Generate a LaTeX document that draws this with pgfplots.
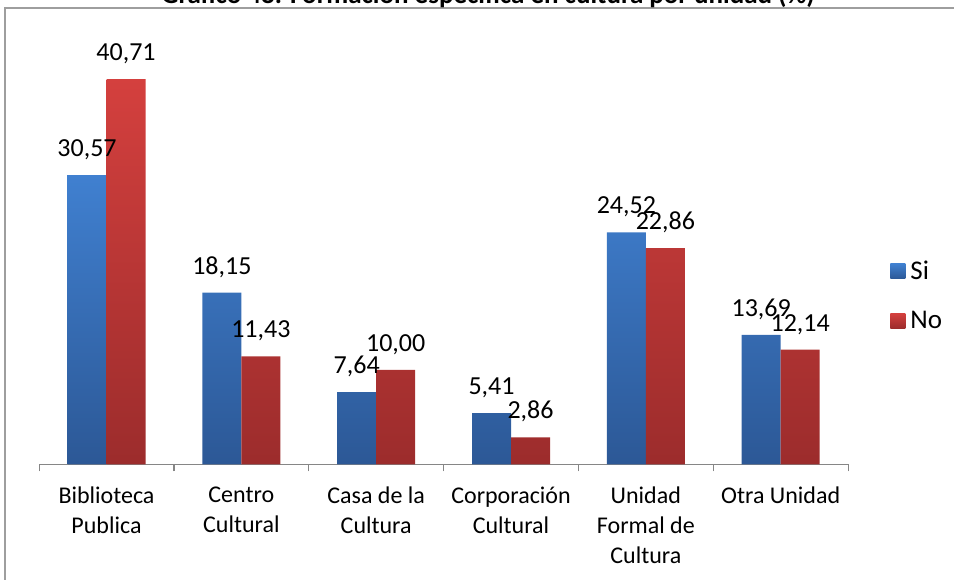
\documentclass[border=0pt]{standalone}
\usepackage{pgfplots}
\pgfplotsset{compat=1.18}
\usepackage{fontspec}
\setmainfont{Carlito}
\definecolor{bluetop}{RGB}{64,128,208}
\definecolor{bluebot}{RGB}{44,88,150}
\definecolor{redtop}{RGB}{212,64,62}
\definecolor{redbot}{RGB}{156,44,44}
\definecolor{axgray}{RGB}{134,134,134}
\begin{document}
\begin{tikzpicture}[x=1pt,y=1pt]
\draw[axgray!80, line width=1.2pt] (5,-5) -- (5,571) -- (960,571);
\node[anchor=base, font=\fontsize{27}{30}\selectfont\bfseries] at (488,575) {Gráfico 48. Formación específica en cultura por unidad (\%)};
\begin{axis}[
  at={(29,121)}, anchor=south west,
  scale only axis, width=809pt, height=426pt,
  ymin=0, ymax=45, xmin=-0.5, xmax=5.5,
  axis y line=none, axis x line*=bottom,
  x axis line style={axgray, line width=1.2pt},
  xtick={0,...,5},
  xticklabels={{Biblioteca\\Publica},{Centro\\Cultural},{Casa de la\\Cultura},{Corporación\\Cultural},{Unidad\\Formal de\\Cultura},{Otra Unidad}},
  major tick length=0pt,
  minor xtick={-0.5,0.5,...,5.5},
  minor tick length=7pt,
  tick align=outside,
  minor tick style={axgray, line width=1.2pt},
  xticklabel style={font=\fontsize{24}{30}\selectfont, align=center, inner sep=0pt, anchor=north, yshift=-22pt},
  ybar=0pt, bar width=39pt,
  nodes near coords={\pgfmathprintnumber[fixed,fixed zerofill,precision=2,use comma,assume math mode=true]{\pgfplotspointmeta}},
  nodes near coords style={font=\fontsize{26}{30}\selectfont, inner sep=0pt, anchor=south, yshift=15pt, black},
  legend style={at={(1.052,0.396)}, anchor=west, draw=none, fill=none, inner sep=0pt, font=\fontsize{27}{30}\selectfont, row sep=30pt, column sep=5pt, nodes={inner sep=0pt}},
  legend cell align=left,
  legend image code/.code={\path[#1] (0pt,-7.5pt) rectangle (15pt,7.5pt);},
]
\addplot[draw=none, top color=bluetop, bottom color=bluebot, bar shift=-19.5pt] coordinates {(0,30.57) (1,18.15) (2,7.64) (3,5.41) (4,24.52) (5,13.69)};
\addplot[draw=none, top color=redtop, bottom color=redbot, bar shift=19.5pt] coordinates {(0,40.71) (1,11.43) (2,10.00) (3,2.86) (4,22.86) (5,12.14)};
\legend{Si,No}
\end{axis}
\pgfresetboundingbox
\path[use as bounding box] (0,0) rectangle (954,579);
\end{tikzpicture}
\end{document}
